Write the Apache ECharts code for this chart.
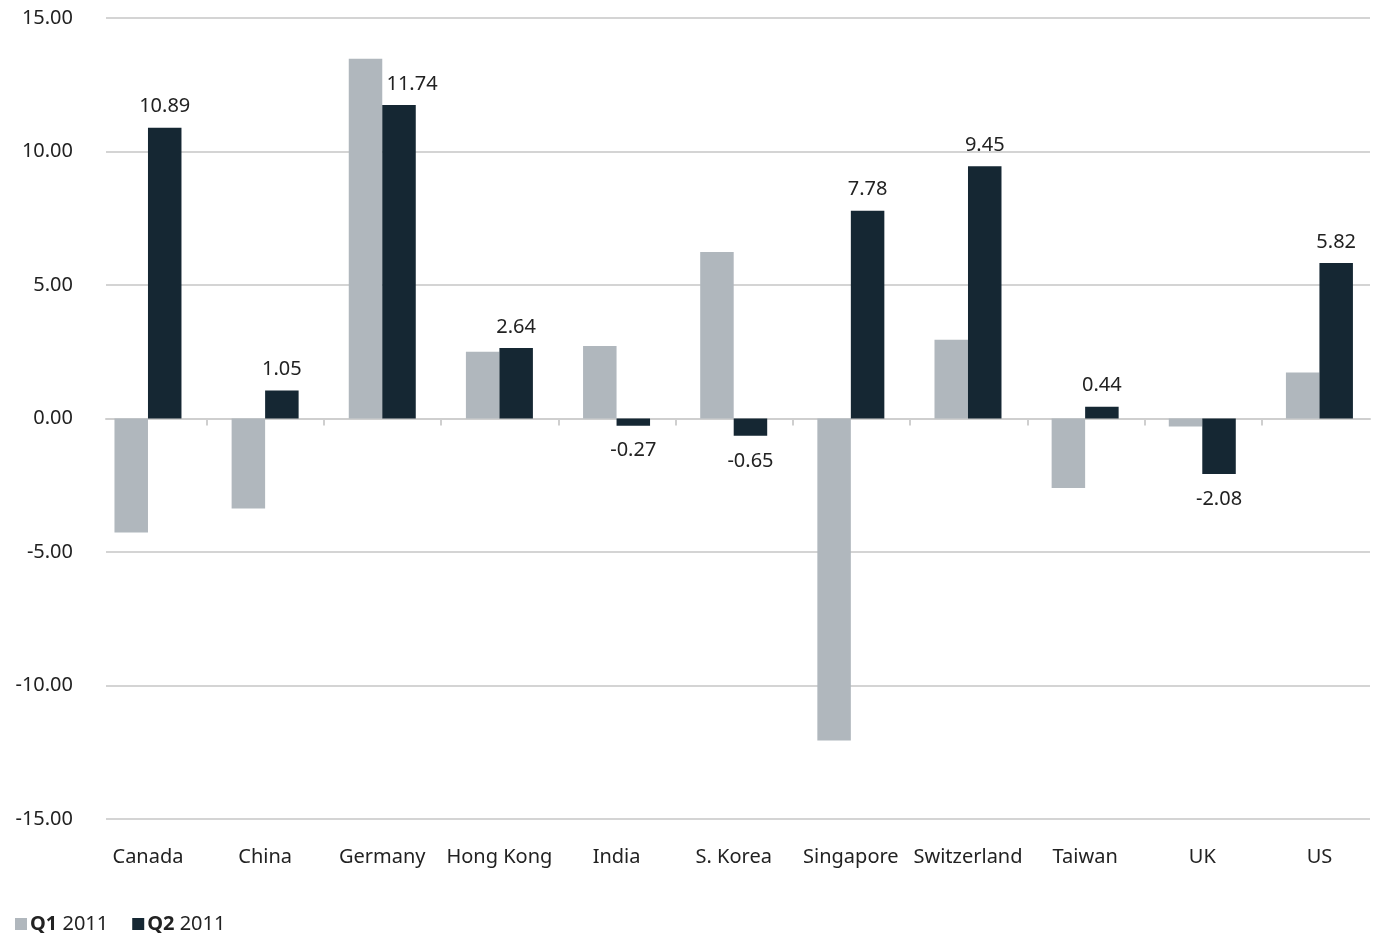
<!DOCTYPE html>
<html><head><meta charset="utf-8">
<script src="https://cdn.jsdelivr.net/npm/echarts@6/dist/echarts.min.js"></script>
<style>html,body{margin:0;padding:0;background:#fff}#c{width:1378px;height:934px}</style>
</head><body><div id="c"></div>
<script>
const categories = ['Canada','China','Germany','Hong Kong','India','S. Korea','Singapore','Switzerland','Taiwan','UK','US'];
const q1_2011 = [-4.27, -3.37, 13.47, 2.5, 2.72, 6.24, -12.06, 2.95, -2.6, -0.3, 1.72];
const q2_2011 = [10.89, 1.05, 11.74, 2.64, -0.27, -0.65, 7.78, 9.45, 0.44, -2.08, 5.82];
const seriesNames = ['Q1 2011', 'Q2 2011'];
const yMin = -15, yMax = 15, yStep = 5;

const FONT = 'Noto Sans';
const FS = 20;
const chart = echarts.init(document.getElementById('c'), null, {renderer: 'canvas'});

const q2Data = q2_2011.map((v, i) => {
  const item = {value: v, label: {position: v < 0 ? 'bottom' : 'top', distance: v < 0 ? 15 : 11}};
  // label nudged right when the neighbouring Q1 bar is taller
  if (v > 0 && q1_2011[i] > v) item.label.offset = [13, 0];
  return item;
});

const PL = 89.4, PR = -1.2;               // main plot (bands)
const band = (1378 - PL - PR) / categories.length;

chart.setOption({
  animation: false,
  textStyle: {fontFamily: FONT},
  grid: [
    {left: PL, right: PR, top: 18, bottom: 115, containLabel: false},
    {left: 106, right: 8, top: 18, bottom: 115, containLabel: false},
    // tick grid: same band width, one band shorter so the final tick is the last inner boundary
    {left: PL, right: PR + band, top: 18, bottom: 115, containLabel: false}
  ],
  legend: {
    left: 10, top: 909, itemWidth: 12, itemHeight: 12, itemGap: 24,
    icon: 'rect',
    data: seriesNames,
    formatter: n => { const p = n.split(' '); return '{b|' + p[0] + '} ' + p[1]; },
    textStyle: {fontFamily: FONT, fontSize: FS, color: '#222', padding: [0,0,0,-2],
      rich: {b: {fontFamily: FONT, fontSize: FS, fontWeight: 'bold', color: '#222'}}}
  },
  xAxis: [
    {type: 'category', gridIndex: 0, data: categories,
     axisLine: {show: false, onZero: false}, axisTick: {show: false},
     axisLabel: {show: true, interval: 0, margin: 28, fontSize: FS, color: '#222', fontFamily: FONT},
     splitLine: {show: false}},
    {type: 'value', gridIndex: 1, min: 0, max: 1, show: true,
     axisLine: {show: true, onZero: true, lineStyle: {color: '#cfcfcf', width: 2}},
     axisTick: {show: false}, axisLabel: {show: false}, splitLine: {show: false}},
    {type: 'category', gridIndex: 2, data: categories.slice(0, categories.length - 1),
     axisLine: {show: false, onZero: true},
     axisTick: {show: true, length: 7, interval: (i) => i > 0, lineStyle: {color: '#cfcfcf', width: 2}},
     axisLabel: {show: false}, splitLine: {show: false}}
  ],
  yAxis: [
    {type: 'value', gridIndex: 0, min: yMin, max: yMax, interval: yStep,
     axisLine: {show: false}, axisTick: {show: false}, axisLabel: {show: false}, splitLine: {show: false}},
    {type: 'value', gridIndex: 1, min: yMin, max: yMax, interval: yStep,
     axisLine: {show: false}, axisTick: {show: false},
     axisLabel: {show: true, margin: 33, fontSize: FS, color: '#222', fontFamily: FONT, formatter: v => v.toFixed(2)},
     splitLine: {show: true, lineStyle: {color: '#d4d4d4', width: 2}}},
    {type: 'value', gridIndex: 2, min: yMin, max: yMax, interval: yStep, show: false}
  ],
  series: [
    {name: seriesNames[0], type: 'bar', xAxisIndex: 0, yAxisIndex: 0, data: q1_2011,
     barWidth: 33.5, barGap: '0%', itemStyle: {color: '#b0b7bd'}, z: 3},
    {name: seriesNames[1], type: 'bar', xAxisIndex: 0, yAxisIndex: 0, data: q2Data,
     barWidth: 33.5, barGap: '0%', itemStyle: {color: '#152733'}, z: 3,
     label: {show: true, fontSize: FS, color: '#222', fontFamily: FONT,
       formatter: p => p.value.toFixed(2)}}
  ]
});
</script></body></html>
